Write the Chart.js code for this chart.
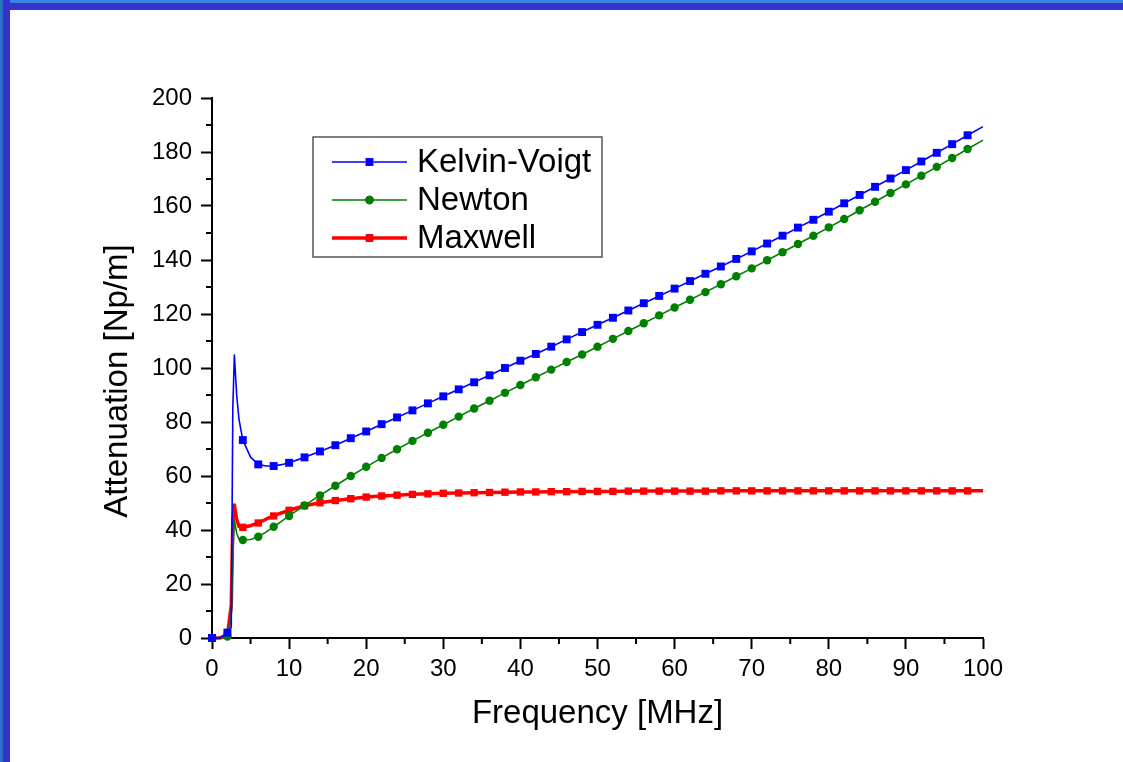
<!DOCTYPE html>
<html>
<head>
<meta charset="utf-8">
<script src="https://cdn.jsdelivr.net/npm/chart.js@4/dist/chart.umd.min.js"></script>
<style>
  html, body { margin: 0; padding: 0; background: #fff; overflow: hidden; }
  #wrap { position: relative; width: 1123px; height: 762px; }
  #chart { position: absolute; left: 0; top: 0; }
  .bar-top { position: absolute; left: 0; top: 0; width: 1123px; height: 10px;
    background: linear-gradient(to bottom, #3d84e2 0, #3d84e2 3px, #3434cc 3px); }
  .bar-left { position: absolute; left: 0; top: 0; width: 10px; height: 762px;
    background: linear-gradient(to right, #2c6fc6 0, #2c6fc6 3px, #3434cc 3px); }
</style>
</head>
<body>
<div id="wrap">
  <canvas id="chart" width="1123" height="762"></canvas>
  <div class="bar-top"></div>
  <div class="bar-left"></div>
</div>
<script>
const freq = [0, 1, 2, 2.5, 2.7, 2.9, 3.2, 3.5, 4, 5, 6, 7, 8, 9,
  10, 12, 14, 16, 18, 20, 22, 24, 26, 28, 30, 32, 34, 36, 38, 40, 42, 44, 46, 48,
  50, 52, 54, 56, 58, 60, 62, 64, 66, 68, 70, 72, 74, 76, 78, 80, 82, 84, 86, 88,
  90, 92, 94, 96, 98, 100];

const kelvinVoigt = [0, 0, 2, 4, 85, 104.8, 90, 81, 73.3, 67, 64.3, 63.7, 63.7, 64.2,
  64.9, 66.9, 69.1, 71.4, 74.0, 76.5, 79.2, 81.7, 84.3, 86.9, 89.5, 92.1, 94.7, 97.3, 100.0, 102.7,
  105.2, 107.9, 110.6, 113.3, 116.0, 118.6, 121.3, 124.0, 126.7, 129.4, 132.2, 134.9, 137.6, 140.4,
  143.2, 146.1, 149.0, 152.0, 154.9, 157.9, 161.0, 164.1, 167.1, 170.2, 173.3, 176.5, 179.7, 182.9,
  186.2, 189.4];

const newton = [0, 0, 0.5, 8, 30, 43.7, 38.8, 36.6, 36.3, 36.5, 37.5, 39.2, 41.2, 43.2,
  45.2, 49.1, 52.8, 56.4, 60.0, 63.4, 66.7, 69.9, 73.0, 76.0, 79.0, 82.0, 85.0, 87.9, 90.8, 93.7,
  96.6, 99.4, 102.2, 105.0, 107.9, 110.8, 113.7, 116.6, 119.5, 122.4, 125.3, 128.1, 131.0, 134.0,
  136.9, 139.9, 142.9, 145.9, 149.0, 152.1, 155.2, 158.4, 161.6, 164.8, 168.0, 171.2, 174.5, 177.8,
  181.1, 184.4];

const maxwell = [0, 0, 1, 12, 44, 49.3, 44, 41.3, 41, 41.6, 42.6, 44, 45.2, 46.3,
  47.3, 49.0, 50.1, 50.9, 51.6, 52.2, 52.6, 52.9, 53.2, 53.4, 53.6, 53.7, 53.8, 53.9, 54.0, 54.1,
  54.1, 54.2, 54.2, 54.3, 54.3, 54.3, 54.4, 54.4, 54.4, 54.4, 54.4, 54.4, 54.5, 54.5,
  54.5, 54.5, 54.5, 54.5, 54.5, 54.5, 54.5, 54.5, 54.5, 54.5, 54.5, 54.5, 54.5, 54.5,
  54.5, 54.5];

const seriesNames = ["Kelvin-Voigt", "Newton", "Maxwell"];
const xTicks = [0, 10, 20, 30, 40, 50, 60, 70, 80, 90, 100];
const yTicks = [0, 20, 40, 60, 80, 100, 120, 140, 160, 180, 200];
const xMinor = [5, 15, 25, 35, 45, 55, 65, 75, 85, 95];
const yMinor = [10, 30, 50, 70, 90, 110, 130, 150, 170, 190];
const yTitle = "Attenuation [Np/m]";

const FONT = "'Liberation Sans', Arial, sans-serif";

// markers only on every 2 MHz, like the original plot
function markerAt(i) {
  const f = freq[i];
  return Number.isInteger(f) && f % 2 === 0 && f < 100;
}

function toPoints(values) {
  return freq.map((f, i) => ({ x: f, y: values[i] }));
}

const minorTicks = {
  id: "minorTicks",
  afterDraw(chart) {
    const { ctx, scales: { x, y } } = chart;
    ctx.save();
    ctx.strokeStyle = "#000";
    ctx.lineWidth = 2;
    ctx.beginPath();
    xMinor.forEach(v => {
      const px = x.getPixelForValue(v);
      ctx.moveTo(px, y.bottom);
      ctx.lineTo(px, y.bottom + 6);
    });
    yMinor.forEach(v => {
      const py = y.getPixelForValue(v);
      ctx.moveTo(x.left, py);
      ctx.lineTo(x.left - 6, py);
    });
    ctx.stroke();

    // y title, a bit below the middle as in the original
    ctx.translate(chart.chartArea.left - 94, (chart.chartArea.top + chart.chartArea.bottom) / 2 + 13);
    ctx.rotate(-Math.PI / 2);
    ctx.fillStyle = "#000";
    ctx.font = "33px " + FONT;
    ctx.textAlign = "center";
    ctx.textBaseline = "middle";
    ctx.fillText(yTitle, 0, 0);
    ctx.restore();
  }
};

const boxLegend = {
  id: "boxLegend",
  afterDraw(chart) {
    const { ctx, chartArea } = chart;
    const left = chartArea.left + 101;
    const top = chartArea.top + 39;
    const w = 289, h = 120;
    ctx.save();
    ctx.fillStyle = "#fff";
    ctx.fillRect(left, top, w, h);
    ctx.strokeStyle = "#555";
    ctx.lineWidth = 1.5;
    ctx.strokeRect(left, top, w, h);
    chart.data.datasets.forEach((ds, i) => {
      const cy = top + 25 + i * 38;
      ctx.strokeStyle = ds.borderColor;
      ctx.lineWidth = ds.borderWidth;
      ctx.beginPath();
      ctx.moveTo(left + 19, cy);
      ctx.lineTo(left + 94, cy);
      ctx.stroke();
      Chart.helpers.drawPoint(ctx, {
        pointStyle: ds.pointStyle,
        radius: ds.legendRadius,
        rotation: 0,
        borderWidth: 0
      }, left + 56.5, cy);
      ctx.fillStyle = ds.borderColor;
      ctx.fill();
      ctx.fillStyle = "#000";
      ctx.font = "33px " + FONT;
      ctx.textBaseline = "middle";
      ctx.fillText(ds.label, left + 104, cy + 1);
    });
    ctx.restore();
  }
};

function makeSet(label, values, color, width, style, radius) {
  return {
    label: label,
    data: toPoints(values),
    borderColor: color,
    backgroundColor: color,
    borderWidth: width,
    borderJoinStyle: "round",
    pointStyle: style,
    pointBorderWidth: 0,
    pointBackgroundColor: color,
    pointRadius: ctx => markerAt(ctx.dataIndex) ? radius : 0,
    legendRadius: radius,
    tension: 0,
    clip: false
  };
}

new Chart(document.getElementById("chart").getContext("2d"), {
  type: "line",
  data: {
    datasets: [
      makeSet(seriesNames[0], kelvinVoigt, "#0000ff", 1.6, "rect", 5.6),
      makeSet(seriesNames[1], newton, "#008000", 1.6, "circle", 4.2),
      makeSet(seriesNames[2], maxwell, "#ff0000", 3.5, "rect", 5.2)
    ]
  },
  options: {
    responsive: false,
    animation: false,
    events: [],
    layout: { padding: { left: 96, top: 98, right: 140, bottom: 0 } },
    plugins: { legend: { display: false }, tooltip: { enabled: false } },
    scales: {
      x: {
        type: "linear",
        min: 0,
        max: 100,
        afterFit: s => { s.height = 124; },
        afterBuildTicks: s => { s.ticks = xTicks.map(v => ({ value: v })); },
        grid: { drawOnChartArea: false, tickLength: 11, tickColor: "#000", tickWidth: 2 },
        border: { display: true, color: "#000", width: 2 },
        ticks: { color: "#000", font: { size: 24, family: FONT }, padding: 6, maxRotation: 0 },
        title: { display: true, text: "Frequency [MHz]", color: "#000",
          font: { size: 33, family: FONT }, padding: { top: 0, bottom: 28 } }
      },
      y: {
        type: "linear",
        min: 0,
        max: 200,
        afterFit: s => { s.width = 116; },
        afterBuildTicks: s => { s.ticks = yTicks.map(v => ({ value: v })); },
        grid: { drawOnChartArea: false, tickLength: 11, tickColor: "#000", tickWidth: 2 },
        border: { display: true, color: "#000", width: 2 },
        ticks: { color: "#000", font: { size: 24, family: FONT }, padding: 9 }
      }
    }
  },
  plugins: [minorTicks, boxLegend]
});
</script>
</body>
</html>
